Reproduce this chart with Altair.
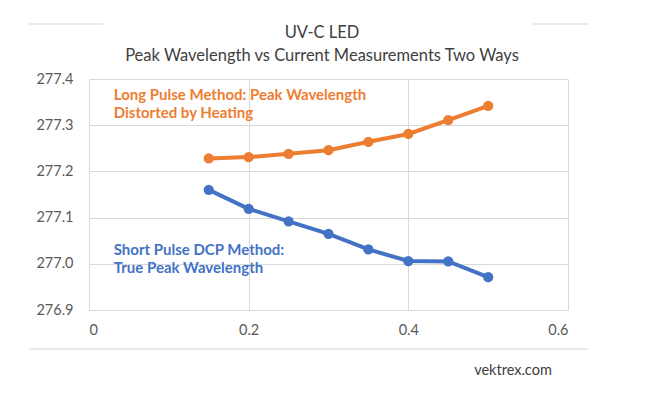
import altair as alt
import pandas as pd

current = [0.15, 0.2, 0.25, 0.3, 0.35, 0.4, 0.45, 0.5]
long_pulse = [277.228, 277.231, 277.238, 277.246, 277.264, 277.281, 277.311, 277.342]
short_pulse = [277.160, 277.119, 277.092, 277.065, 277.031, 277.006, 277.005, 276.971]
series_names = ["Long Pulse Method", "Short Pulse DCP Method"]
colors = ["#ED7D31", "#4472C4"]

y_ticks = [276.9, 277.0, 277.1, 277.2, 277.3, 277.4]
x_ticks = [0, 0.2, 0.4, 0.6]

title_lines = ["UV-C LED", "Peak Wavelength vs Current Measurements Two Ways"]

ann_text = ["Long Pulse Method: Peak Wavelength", "Distorted by Heating",
            "Short Pulse DCP Method:", "True Peak Wavelength"]
ann_x = [0.031, 0.031, 0.031, 0.031]
ann_y = [277.365, 277.326, 277.030, 276.991]
ann_series = [series_names[0], series_names[0], series_names[1], series_names[1]]

df = pd.DataFrame({
    "current": current * 2,
    "wl": long_pulse + short_pulse,
    "series": [series_names[0]] * len(current) + [series_names[1]] * len(current),
})
ann = pd.DataFrame({"x": ann_x, "y": ann_y, "text": ann_text, "series": ann_series})

FONT = "Lato"
xs = alt.Scale(domain=[0, 0.6], nice=False)
ys = alt.Scale(domain=[276.9, 277.4], nice=False, zero=False)
cs = alt.Scale(domain=series_names, range=colors)

base = alt.Chart(df)
lines = base.mark_line(strokeWidth=4).encode(
    x=alt.X("current:Q", scale=xs, axis=alt.Axis(values=x_ticks, format="~g", title=None,
            domain=False, ticks=False, labelPadding=13, labelFontSize=14.5, labelColor="#595959",
            labelFont=FONT, gridColor="#D9D9D9")),
    y=alt.Y("wl:Q", scale=ys, axis=alt.Axis(values=y_ticks, format=".1f", title=None,
            domain=False, ticks=False, labelPadding=16, labelFontSize=14.5, labelColor="#595959",
            labelFont=FONT, gridColor="#D9D9D9")),
    color=alt.Color("series:N", scale=cs, legend=None),
)
points = base.mark_circle(size=105, opacity=1).encode(
    x=alt.X("current:Q", scale=xs),
    y=alt.Y("wl:Q", scale=ys),
    color=alt.Color("series:N", scale=cs, legend=None),
)
labels = alt.Chart(ann).mark_text(align="left", baseline="middle", fontSize=15,
                                  fontWeight="bold", font=FONT).encode(
    x=alt.X("x:Q", scale=xs),
    y=alt.Y("y:Q", scale=ys),
    text="text:N",
    color=alt.Color("series:N", scale=cs, legend=None),
)
one = pd.DataFrame({"a": [0]})
title1 = alt.Chart(one).mark_text(fontSize=16.5, font=FONT, color="#404040", baseline="middle",
                                  text=title_lines[0]).encode(x=alt.value(233), y=alt.value(-46))
title2 = alt.Chart(one).mark_text(fontSize=16.5, font=FONT, color="#404040", baseline="middle",
                                  text=title_lines[1]).encode(x=alt.value(233), y=alt.value(-23))
credit = alt.Chart(one).mark_text(fontSize=14.5, font=FONT, color="#404040", baseline="middle",
                                  text="vektrex.com").encode(x=alt.value(424), y=alt.value(292))

rule_top1 = alt.Chart(one).mark_rule(color="#E3E3E3", strokeWidth=1.5).encode(
    x=alt.value(-60), x2=alt.value(14), y=alt.value(-55))
rule_top2 = alt.Chart(one).mark_rule(color="#E3E3E3", strokeWidth=1.5).encode(
    x=alt.value(444), x2=alt.value(500), y=alt.value(-55))
rule_bot = alt.Chart(one).mark_rule(color="#E3E3E3", strokeWidth=1.5).encode(
    x=alt.value(-60), x2=alt.value(499), y=alt.value(270))

chart = alt.layer(rule_top1, rule_top2, rule_bot, title1, title2, lines, points, labels, credit).properties(
    width=479, height=231,
    padding={"left": 81, "top": 71, "right": 20, "bottom": 70},
    autosize=alt.AutoSizeParams(type="none"),
).configure_view(stroke=None)

chart.save("out.html", embed_options={"renderer": "svg", "actions": False})
